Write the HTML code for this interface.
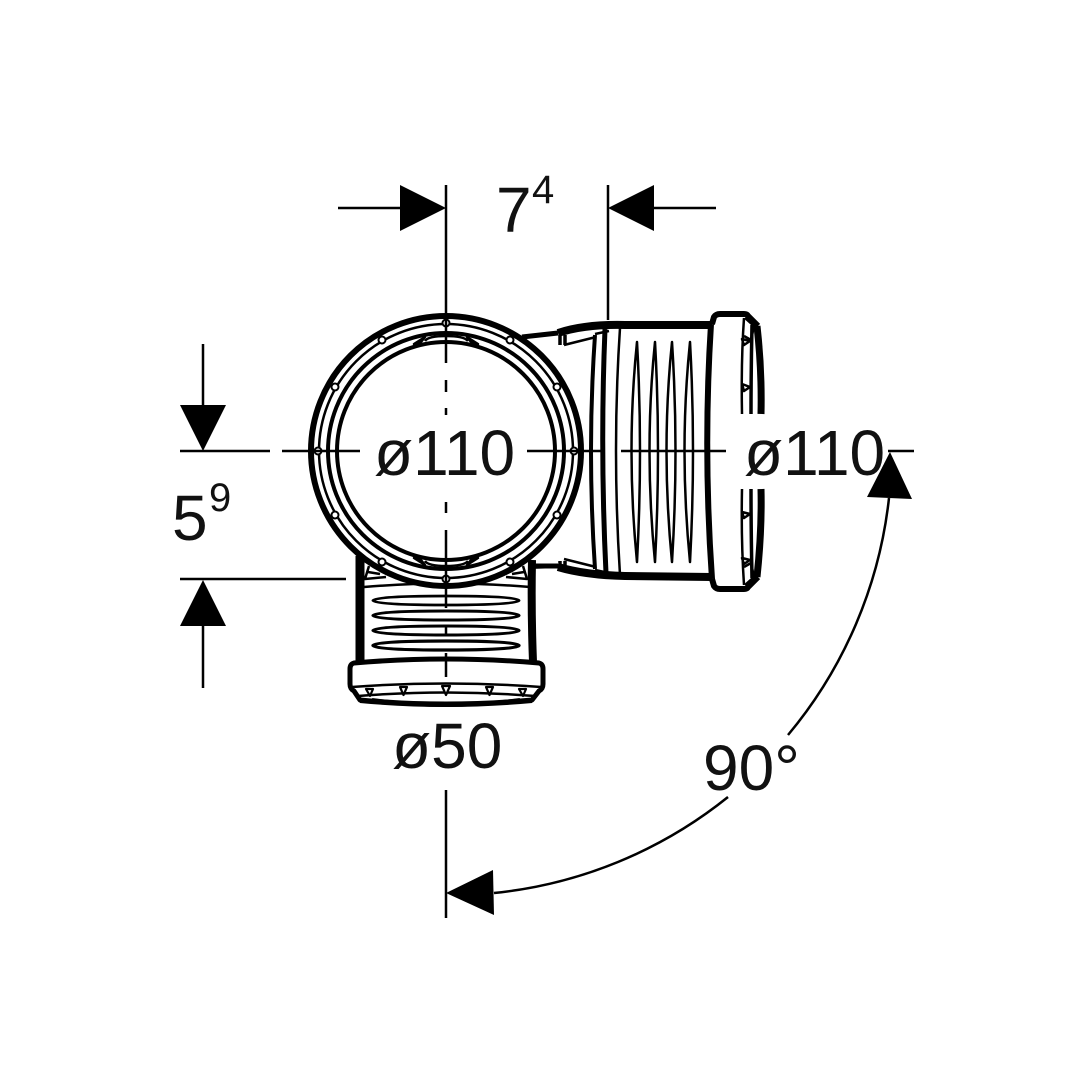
<!DOCTYPE html>
<html><head><meta charset="utf-8"><style>
html,body{margin:0;padding:0;background:#fff}
svg{display:block}
text{font-family:"Liberation Sans",sans-serif;fill:#111}
</style></head><body>
<svg width="1080" height="1080" viewBox="0 0 1080 1080" xmlns="http://www.w3.org/2000/svg">
<rect width="1080" height="1080" fill="#fff"/>
<g fill="none" stroke="#000" stroke-linecap="butt" stroke-linejoin="round">
<!-- bottom socket -->
<g>
<path d="M360 556 L360 662" stroke-width="9"/>
<path d="M532 560 Q531 610 533 662" stroke-width="8"/>
<path d="M530 567 L560 566" stroke-width="4"/>
<path d="M364 587 Q446 580 530 587" stroke-width="2.500"/>
<path d="M369 566 L365 579 L386 577 M368 572 L380 574 M523 566 L527 579 L506 577 M524 572 L512 574" stroke-width="2.500"/>
<g fill="#fff">
<path d="M373 600.500 Q377 596 446 596 Q515 596 519 600.500 Q515 605 446 605 Q377 605 373 600.500Z" stroke-width="2.800"/>
<path d="M373 615.500 Q377 611 446 611 Q515 611 519 615.500 Q515 620 446 620 Q377 620 373 615.500Z" stroke-width="3"/>
<path d="M373 630.500 Q377 626 446 626 Q515 626 519 630.500 Q515 635 446 635 Q377 635 373 630.500Z" stroke-width="3"/>
<path d="M373 645.500 Q377 641 446 641 Q515 641 519 645.500 Q515 650 446 650 Q377 650 373 645.500Z" stroke-width="3.200"/>
</g>
<path d="M354 663 Q446 655 539 663 Q543 664 543 669 L543 684 Q543 689 539 691 L532 700 Q446 708 360 700 L354 691 Q350 689 350 684 L350 669 Q350 664 354 663Z" fill="#fff" stroke-width="5"/>
<path d="M352 687 Q446 680 541 687" stroke-width="2.500"/>
<path d="M358 696 Q446 689 535 696" stroke-width="2.500"/>
<path d="M372 700 Q446 710 520 700" stroke-width="4"/>
<path d="M360 701 Q446 709 532 701" stroke-width="4"/>
<g fill="#fff" stroke-width="2.200">
<path d="M366 689 L373 689 L370 696Z"/>
<path d="M400 687 L407 687 L403.500 695Z"/>
<path d="M442 686 L450 686 L446 695Z"/>
<path d="M486 687 L493 687 L489.500 695Z"/>
<path d="M519 689 L526 689 L523 696Z"/>
</g>
</g>
<!-- right socket -->
<g>
<path d="M522 337 L558 333" stroke-width="5"/>
<path d="M529 566 L558 566" stroke-width="5"/>
<path d="M558 333 Q585 324 625 325 L712 325" stroke-width="8"/>
<path d="M558 567 Q585 575 625 576 L712 577" stroke-width="8"/>
<path d="M560 335 L560 345 M565 335 L565 345 M560 561 L560 571 M565 561 L565 571" stroke-width="3.500"/>
<path d="M564 345 L596 337 M564 559 L596 567" stroke-width="2.500"/>
<path d="M595 334 L609 331 M595 570 L609 573" stroke-width="2.500"/>
<path d="M595 335 Q587 450 595 569" stroke-width="4"/>
<path d="M605 329 Q600 450 606 573" stroke-width="5"/>
<path d="M620 328 Q612 450 620 575" stroke-width="2.500"/>
<g stroke-width="2.500" fill="#fff">
<path d="M637 342 Q626 450 637 562 Q643 450 637 342Z"/>
<path d="M655 342 Q644 450 655 562 Q661 450 655 342Z"/>
<path d="M672 342 Q661 450 672 562 Q679 450 672 342Z"/>
<path d="M690 342 Q679 450 690 562 Q696 450 690 342Z"/>
</g>
<path d="M711 324 Q703 450 712 579" stroke-width="6"/>
<path d="M712 324 L714 317 Q716 314 720 314 L744 314 Q747 314 748 316 L758 326" stroke-width="6"/>
<path d="M712 579 L714 586 Q716 589 720 589 L744 589 Q747 589 748 587 L758 577" stroke-width="6"/>
<path d="M757 326 Q762 370 761 414" stroke-width="7"/>
<path d="M757 577 Q762 530 761 489" stroke-width="7"/>
<path d="M744 318 Q741 360 742 414 M744 585 Q741 540 742 489" stroke-width="2.500"/>
<path d="M752 325 Q751 370 751 414 M752 578 Q751 530 751 489" stroke-width="3.500"/>
<path d="M745 318 L754 326 L751 340 L744 336 M745 585 L754 577 L751 563 L744 567" stroke-width="2.500"/>
<g fill="#fff" stroke-width="2.500">
<path d="M742 339 L750 341 L744 345Z"/>
<path d="M742 384 L750 387 L744 391Z"/>
<path d="M742 512 L750 514 L744 518Z"/>
<path d="M742 558 L750 560 L744 564Z"/>
</g>
</g>
<!-- main circle -->
<circle cx="446" cy="451" r="135" fill="#fff" stroke-width="6"/>
<circle cx="446" cy="451" r="127" stroke-width="2.500"/>
<circle cx="446" cy="451" r="118" stroke-width="4"/>
<circle cx="446" cy="451" r="109" stroke-width="4"/>
<path d="M414 344 L425 337 L421 342Z M478 344 L467 337 L471 342Z M414 558 L425 565 L421 560Z M478 558 L467 565 L471 560Z" fill="#000" stroke-width="2.500"/>
<path d="M425 341 Q428 336 446 336 Q464 336 468 341 M425 561 Q428 566 446 566 Q464 566 468 561" stroke-width="2.500"/>
<g fill="#fff" stroke-width="2">
<circle cx="446" cy="323" r="3.500"/><circle cx="446" cy="579" r="3.500"/>
<circle cx="318" cy="451" r="3.500"/><circle cx="574" cy="451" r="3.500"/>
<circle cx="382" cy="340" r="3.500"/><circle cx="510" cy="340" r="3.500"/>
<circle cx="382" cy="562" r="3.500"/><circle cx="510" cy="562" r="3.500"/>
<circle cx="335" cy="387" r="3.500"/><circle cx="557" cy="387" r="3.500"/>
<circle cx="335" cy="515" r="3.500"/><circle cx="557" cy="515" r="3.500"/>
</g>
<!-- centre lines -->
<g stroke-width="2.500">
<path d="M446 185 L446 363 M446 380 L446 392 M446 408 L446 415 M446 502 L446 513 M446 530 L446 608 M446 625 L446 636 M446 653 L446 677 M446 790 L446 918"/>
<path d="M180 451 L270 451 M282 451 L360 451 M527 451 L602 451 M621 451 L726 451 M888 451 L914 451"/>
<path d="M608 185 L608 320"/>
<path d="M338 208 L400 208 M654 208 L716 208"/>
<path d="M203 344 L203 405 M203 626 L203 688"/>
<path d="M180 579 L346 579"/>
<path d="M494 893 A445 445 0 0 0 728 797"/>
<path d="M788 735 A445 445 0 0 0 889 498"/>
</g>
<g fill="#000" stroke="none">
<path d="M400 185 L446 208 L400 231Z"/>
<path d="M654 185 L608 208 L654 231Z"/>
<path d="M180 405 L226 405 L203 451Z"/>
<path d="M180 626 L226 626 L203 580Z"/>
<path d="M446 893 L493 870 L494 915Z"/>
<path d="M890 452 L867 497 L912 499Z"/>
</g>
</g>
<text x="374" y="475" font-size="64">ø110</text>
<text x="744" y="475" font-size="64">ø110</text>
<text x="392" y="768" font-size="64">ø50</text>
<text x="496" y="232" font-size="64">7</text>
<text x="532" y="203" font-size="40">4</text>
<text x="172" y="540" font-size="64">5</text>
<text x="209" y="511" font-size="40">9</text>
<text x="703" y="790" font-size="64">90°</text>
</svg>
</body></html>
